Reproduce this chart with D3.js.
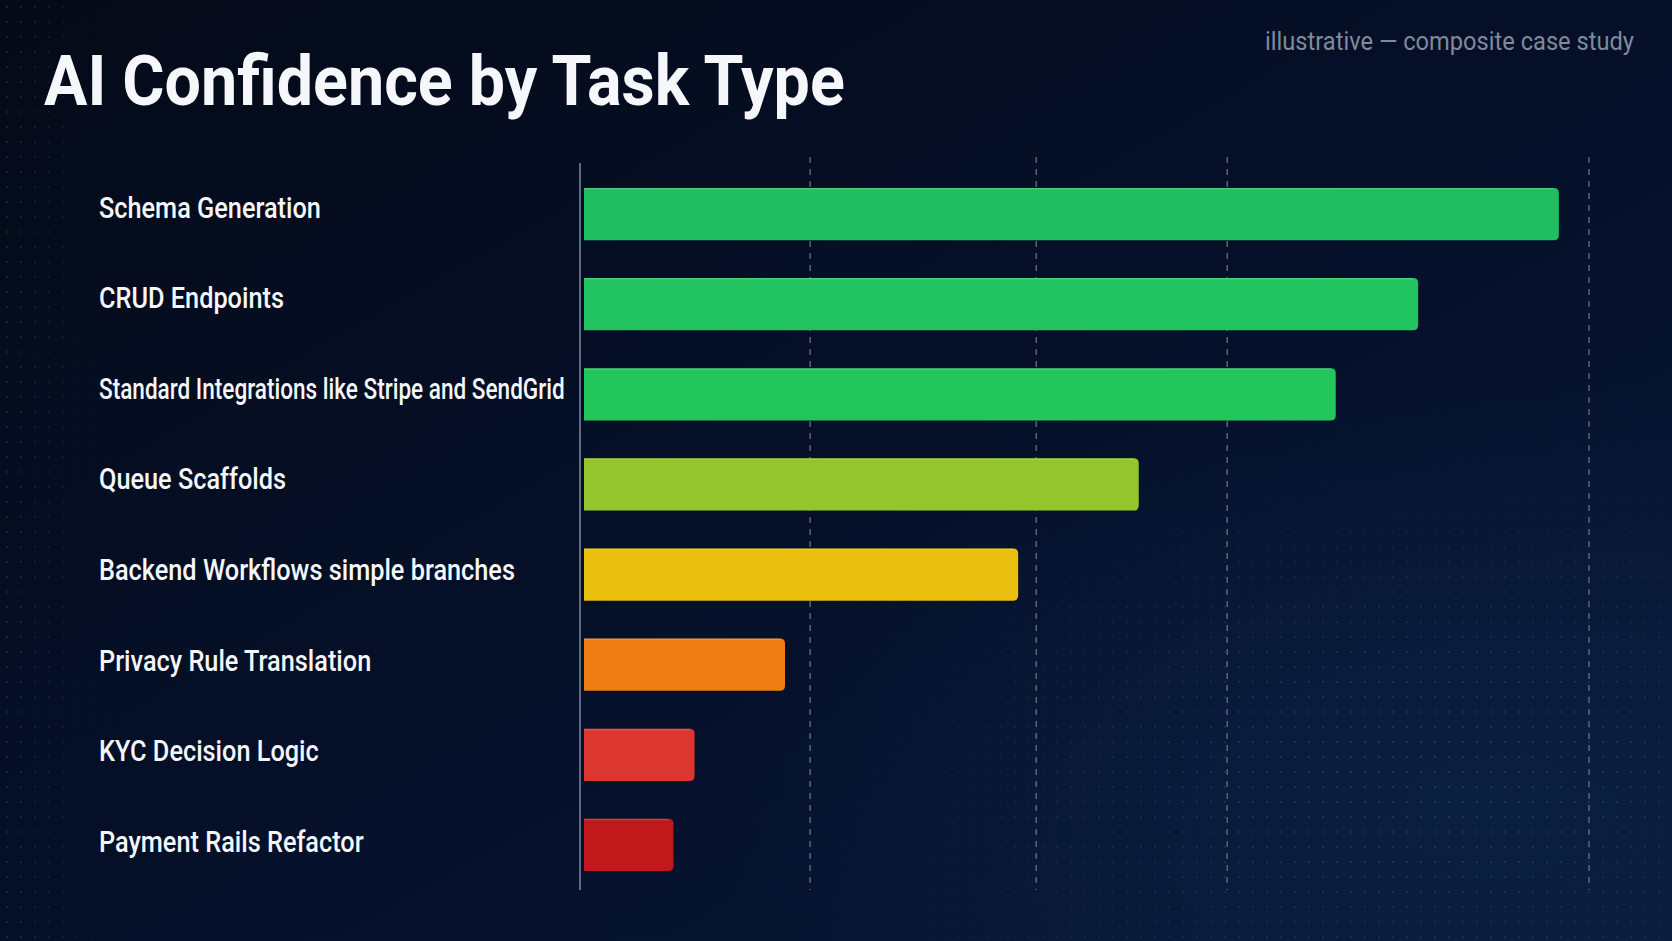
<!DOCTYPE html>
<html>
<head>
<meta charset="utf-8">
<script src="https://cdn.jsdelivr.net/npm/d3@7"></script>
<style>
    html, body { margin: 0; padding: 0; background: #050c1c; overflow: hidden; }
    #chart-area { width: 1672px; height: 941px; }
    text { font-family: Roboto, "Noto Sans", sans-serif; }
</style>
</head>
<body>
<div id="chart-area"></div>
<script>

// chart data
const tasks = [
    "Schema Generation",
    "CRUD Endpoints",
    "Standard Integrations like Stripe and SendGrid",
    "Queue Scaffolds",
    "Backend Workflows simple branches",
    "Privacy Rule Translation",
    "KYC Decision Logic",
    "Payment Rails Refactor"
];
const confidence = [97, 83, 74.8, 55.2, 43.2, 20, 11, 8.9];
const gridTicks = [22.5, 45, 64, 100];

// palette, one per task (green -> red)
const palette = ["#1fbe63", "#20c35f", "#22c75c", "#95c52d", "#eabf0d", "#ee7d13", "#dc3631", "#c1181b"];

const titleText = "AI Confidence by Task Type";
const noteText = "illustrative \u2014 composite case study";


class ConfidenceBars {

    constructor(parentElement) {
        this.parentElement = parentElement;
        this.displayData = tasks.map((t, i) => ({task: t, value: confidence[i]}));
        this.initVis();
    }

    initVis() {
        let vis = this;

        vis.width = 1672;
        vis.height = 941;

        vis.svg = d3.select("#" + vis.parentElement).append("svg")
            .attr("width", vis.width)
            .attr("height", vis.height);

        let defs = vis.svg.append("defs");

        // background gradient
        let bg = defs.append("linearGradient")
            .attr("id", "bg-grad")
            .attr("x1", 0).attr("y1", 0).attr("x2", 1).attr("y2", 1);
        bg.append("stop").attr("offset", "0%").attr("stop-color", "#040a17");
        bg.append("stop").attr("offset", "55%").attr("stop-color", "#05102a");
        bg.append("stop").attr("offset", "100%").attr("stop-color", "#091a38");

        let glow = defs.append("radialGradient")
            .attr("id", "glow")
            .attr("cx", 0.88).attr("cy", 0.85).attr("r", 0.45);
        glow.append("stop").attr("offset", "0%").attr("stop-color", "#0c2246").attr("stop-opacity", 0.7);
        glow.append("stop").attr("offset", "100%").attr("stop-color", "#0c2246").attr("stop-opacity", 0);

        // dotted grid texture
        let pat = defs.append("pattern")
            .attr("id", "dots")
            .attr("patternUnits", "userSpaceOnUse")
            .attr("width", 14).attr("height", 15);
        pat.append("circle")
            .attr("cx", 7).attr("cy", 7).attr("r", 1.1)
            .attr("fill", "#3a7bc0");

        let leftFade = defs.append("linearGradient")
            .attr("id", "left-fade")
            .attr("x1", 0).attr("x2", 1).attr("y1", 0).attr("y2", 0);
        leftFade.append("stop").attr("offset", "0%").attr("stop-color", "#fff").attr("stop-opacity", 0.6);
        leftFade.append("stop").attr("offset", "100%").attr("stop-color", "#fff").attr("stop-opacity", 0);

        let brFade = defs.append("radialGradient")
            .attr("id", "br-fade")
            .attr("cx", 0.85).attr("cy", 0.82).attr("r", 0.4);
        brFade.append("stop").attr("offset", "0%").attr("stop-color", "#fff").attr("stop-opacity", 0.7);
        brFade.append("stop").attr("offset", "100%").attr("stop-color", "#fff").attr("stop-opacity", 0);

        defs.append("mask").attr("id", "mask-left")
            .append("rect").attr("x", 0).attr("y", 0).attr("width", 120).attr("height", vis.height)
            .attr("fill", "url(#left-fade)");
        defs.append("mask").attr("id", "mask-br")
            .append("rect").attr("width", vis.width).attr("height", vis.height)
            .attr("fill", "url(#br-fade)");

        vis.svg.append("rect").attr("width", vis.width).attr("height", vis.height).attr("fill", "url(#bg-grad)");
        vis.svg.append("rect").attr("width", vis.width).attr("height", vis.height).attr("fill", "url(#glow)");
        vis.svg.append("rect").attr("width", vis.width).attr("height", vis.height)
            .attr("fill", "url(#dots)").attr("mask", "url(#mask-left)").attr("opacity", 0.5);
        vis.svg.append("rect").attr("width", vis.width).attr("height", vis.height)
            .attr("fill", "url(#dots)").attr("mask", "url(#mask-br)").attr("opacity", 0.55);

        // scales
        vis.x = d3.scaleLinear().domain([0, 100]).range([584, 1589]);
        vis.y = d3.scaleBand().domain(tasks).range([169, 890]).paddingInner(0.42).paddingOuter(0.21);
        vis.yLabel = d3.scaleBand().domain(tasks).range([162, 887]).paddingInner(0.42).paddingOuter(0.21);
        vis.color = d3.scaleOrdinal().domain(tasks).range(palette);

        vis.updateVis();
    }

    // horizontal squeeze needed so a text spans targetWidth
    fitText(textNode, targetWidth) {
        return targetWidth / textNode.getComputedTextLength();
    }

    updateVis() {
        let vis = this;

        // dashed gridlines
        vis.svg.append("g").attr("class", "grid")
            .selectAll("line")
            .data(gridTicks)
            .enter().append("line")
            .attr("x1", d => vis.x(d)).attr("x2", d => vis.x(d))
            .attr("y1", 157).attr("y2", 890)
            .attr("stroke", "#56647c")
            .attr("stroke-width", 1.5)
            .attr("stroke-dasharray", "6,6");

        // y axis line
        vis.svg.append("line")
            .attr("x1", vis.x(0) - 4).attr("x2", vis.x(0) - 4)
            .attr("y1", 163).attr("y2", 890)
            .attr("stroke", "#5d6b82")
            .attr("stroke-width", 2);

        // bars, right corners rounded
        const r = 5;
        let bars = vis.svg.append("g").attr("class", "bars")
            .selectAll("g")
            .data(vis.displayData)
            .enter().append("g");

        bars.append("path")
            .attr("d", d => {
                let x0 = vis.x(0), x1 = vis.x(d.value), y0 = vis.y(d.task), h = vis.y.bandwidth();
                return `M${x0},${y0} H${x1 - r} Q${x1},${y0} ${x1},${y0 + r} V${y0 + h - r} Q${x1},${y0 + h} ${x1 - r},${y0 + h} H${x0} Z`;
            })
            .attr("fill", d => vis.color(d.task));

        // faint highlight along the top edge
        bars.append("line")
            .attr("x1", vis.x(0)).attr("x2", d => vis.x(d.value) - r)
            .attr("y1", d => vis.y(d.task) + 0.75).attr("y2", d => vis.y(d.task) + 0.75)
            .attr("stroke", "#ffffff").attr("stroke-opacity", 0.18).attr("stroke-width", 1.5);

        // category labels
        const labelSize = 29;
        const labelMax = 466;
        let labels = vis.svg.append("g").attr("class", "labels")
            .selectAll("g")
            .data(vis.displayData)
            .enter().append("g");
        labels.append("text")
            .attr("font-size", labelSize)
            .attr("font-weight", 500)
            .attr("fill", "#f4f6fa")
            .text(d => d.task);

        // common condensing taken from the first label, long ones squeezed to fit
        let baseScale = vis.fitText(labels.select("text").node(), 222);
        labels.attr("transform", function(d) {
            let w = d3.select(this).select("text").node().getComputedTextLength();
            let sx = Math.min(baseScale, labelMax / w);
            return `translate(99, ${vis.yLabel(d.task) + vis.yLabel.bandwidth() / 2 + labelSize * 0.355}) scale(${sx}, 1)`;
        });

        // title
        let title = vis.svg.append("g");
        let titleNode = title.append("text")
            .attr("font-size", 70)
            .attr("font-weight", 700)
            .attr("fill", "#f5f7fa")
            .text(titleText).node();
        title.attr("transform", `translate(44, 105) scale(${vis.fitText(titleNode, 801)}, 1)`);

        // note in the top-right corner
        let note = vis.svg.append("g");
        let noteNode = note.append("text")
            .attr("font-size", 25)
            .attr("fill", "#7f8a9c")
            .attr("text-anchor", "end")
            .text(noteText).node();
        note.attr("transform", `translate(1634, 50) scale(${vis.fitText(noteNode, 369)}, 1)`);
    }
}

new ConfidenceBars("chart-area");

</script>
</body>
</html>
